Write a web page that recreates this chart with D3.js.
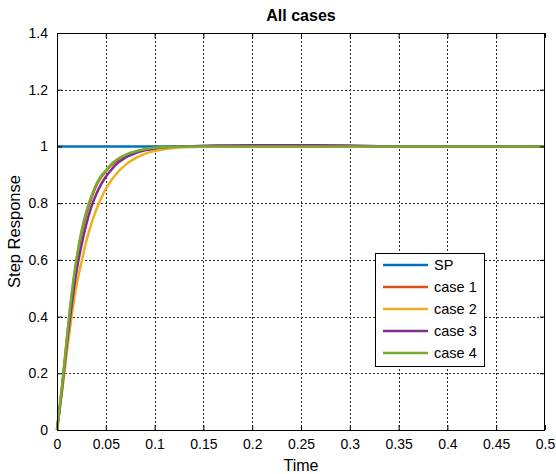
<!DOCTYPE html>
<html>
<head>
<meta charset="utf-8">
<script src="https://cdn.jsdelivr.net/npm/d3@7"></script>
<style>
  html, body { margin: 0; padding: 0; background: #fff; }
  svg { display: block; }
  text { font-family: "Liberation Sans", Arial, Helvetica, sans-serif; fill: #000; }
</style>
</head>
<body>
<svg id="chart" width="556" height="474"></svg>
<script>
// Sample times (s) and step responses for each case
const time  = [0, 0.005, 0.01, 0.015, 0.02, 0.025, 0.03, 0.035, 0.04, 0.045, 0.05, 0.055, 0.06, 0.07, 0.08, 0.09, 0.10, 0.11, 0.12, 0.13, 0.14, 0.15, 0.16, 0.20, 0.25, 0.30, 0.35, 0.40, 0.45, 0.50];
const sp    = [1, 1, 1, 1, 1, 1, 1, 1, 1, 1, 1, 1, 1, 1, 1, 1, 1, 1, 1, 1, 1, 1, 1, 1, 1, 1, 1, 1, 1, 1];
const case1 = [0, 0.145, 0.315, 0.47, 0.595, 0.69, 0.76, 0.815, 0.86, 0.89, 0.912, 0.932, 0.947, 0.968, 0.981, 0.989, 0.994, 0.997, 0.998, 0.999, 1.0, 1.0, 1.0, 1.0, 1.0, 1.0, 1.0, 1.0, 1.0, 1.0];
const case2 = [0, 0.13, 0.27, 0.40, 0.51, 0.59, 0.665, 0.725, 0.775, 0.815, 0.85, 0.877, 0.90, 0.935, 0.958, 0.974, 0.984, 0.990, 0.994, 0.997, 0.998, 0.999, 1.0, 1.0, 1.0, 1.0, 1.0, 1.0, 1.0, 1.0];
const case3 = [0, 0.14, 0.30, 0.44, 0.56, 0.65, 0.725, 0.785, 0.83, 0.865, 0.893, 0.915, 0.935, 0.960, 0.976, 0.986, 0.993, 0.997, 0.999, 1.0, 1.001, 1.002, 1.003, 1.004, 1.004, 1.003, 1.0, 1.0, 1.0, 1.0];
const case4 = [0, 0.15, 0.32, 0.48, 0.605, 0.70, 0.77, 0.822, 0.865, 0.895, 0.915, 0.935, 0.950, 0.970, 0.982, 0.990, 0.995, 0.997, 0.998, 0.999, 1.0, 1.0, 1.0, 1.0, 1.0, 1.0, 1.0, 1.0, 1.0, 1.0];

const seriesNames  = ["SP", "case 1", "case 2", "case 3", "case 4"];
const seriesValues = [sp, case1, case2, case3, case4];
const seriesColors = ["#0072BD", "#D95319", "#EDB120", "#7E2F8E", "#77AC30"];

const xTicks = [0, 0.05, 0.1, 0.15, 0.2, 0.25, 0.3, 0.35, 0.4, 0.45, 0.5];
const yTicks = [0, 0.2, 0.4, 0.6, 0.8, 1, 1.2, 1.4];

const titleText = "All cases";
const xLabelText = "Time";
const yLabelText = "Step Response";

// Plot box
const boxL = 57, boxR = 545, boxT = 33, boxB = 430;

const svg = d3.select("#chart");
svg.append("rect").attr("width", 556).attr("height", 474).attr("fill", "#fff");

const x = d3.scaleLinear().domain([0, 0.5]).range([boxL, boxR]);
const y = d3.scaleLinear().domain([0, 1.4]).range([boxB, boxT]);

// Dotted grid
const grid = svg.append("g").attr("stroke", "#2a2a2a").attr("stroke-width", 1).attr("stroke-dasharray", "2,2");
grid.selectAll("line.vx").data(xTicks.slice(1, -1)).join("line")
  .attr("x1", d => Math.round(x(d)) + 0.5).attr("x2", d => Math.round(x(d)) + 0.5)
  .attr("y1", boxT).attr("y2", boxB);
grid.selectAll("line.hy").data(yTicks.slice(1, -1)).join("line")
  .attr("y1", d => Math.round(y(d)) + 0.5).attr("y2", d => Math.round(y(d)) + 0.5)
  .attr("x1", boxL).attr("x2", boxR);

// Curves
const line = d3.line().x((d, i) => x(time[i])).y(d => y(d)).curve(d3.curveMonotoneX);
const curves = svg.append("g").attr("fill", "none").attr("stroke-width", 2.5).attr("stroke-linejoin", "round");
seriesValues.forEach((vals, k) => {
  curves.append("path").datum(vals).attr("d", line).attr("stroke", seriesColors[k]);
});

// Axes with inward ticks on all four sides
const tickLen = 5;
const bottomAxis = d3.axisBottom(x).tickValues(xTicks).tickSize(-tickLen).tickPadding(9).tickFormat(d3.format("~g"));
const leftAxis = d3.axisLeft(y).tickValues(yTicks).tickSize(-tickLen).tickPadding(9).tickFormat(d3.format("~g"));
const topAxis = d3.axisTop(x).tickValues(xTicks).tickSize(-tickLen).tickFormat("");
const rightAxis = d3.axisRight(y).tickValues(yTicks).tickSize(-tickLen).tickFormat("");

function styleAxis(g) {
  g.select(".domain").remove();
  g.selectAll(".tick line").attr("stroke", "#000");
  g.selectAll(".tick text").attr("font-size", 14).attr("font-family", "Liberation Sans, Arial, sans-serif").attr("fill", "#000");
}
svg.append("g").attr("transform", `translate(0,${boxB})`).call(bottomAxis).call(styleAxis);
svg.append("g").attr("transform", `translate(${boxL},0)`).call(leftAxis).call(styleAxis);
svg.append("g").attr("transform", `translate(0,${boxT})`).call(topAxis).call(styleAxis);
svg.append("g").attr("transform", `translate(${boxR},0)`).call(rightAxis).call(styleAxis);

// Box
svg.append("rect").attr("x", boxL + 0.5).attr("y", boxT + 0.5)
  .attr("width", boxR - boxL - 1).attr("height", boxB - boxT)
  .attr("fill", "none").attr("stroke", "#000").attr("stroke-width", 1);

// Title and axis labels
svg.append("text").attr("x", (boxL + boxR) / 2).attr("y", 21).attr("text-anchor", "middle")
  .attr("font-size", 16).attr("font-weight", "bold").text(titleText);
svg.append("text").attr("x", (boxL + boxR) / 2).attr("y", 471).attr("text-anchor", "middle")
  .attr("font-size", 16).text(xLabelText);
svg.append("text").attr("transform", `translate(20,${(boxT + boxB) / 2}) rotate(-90)`)
  .attr("text-anchor", "middle").attr("font-size", 16.5).text(yLabelText);

// Legend
const lg = svg.append("g").attr("transform", "translate(375,253)");
lg.append("rect").attr("x", 0.5).attr("y", 0.5).attr("width", 109).attr("height", 113)
  .attr("fill", "#fff").attr("stroke", "#000").attr("stroke-width", 1);
seriesNames.forEach((name, i) => {
  const cy = 12 + i * 22;
  lg.append("line").attr("x1", 8).attr("x2", 53).attr("y1", cy).attr("y2", cy)
    .attr("stroke", seriesColors[i]).attr("stroke-width", 2.5);
  lg.append("text").attr("x", 59).attr("y", cy + 5).attr("font-size", 14.5).text(name);
});
</script>
</body>
</html>
